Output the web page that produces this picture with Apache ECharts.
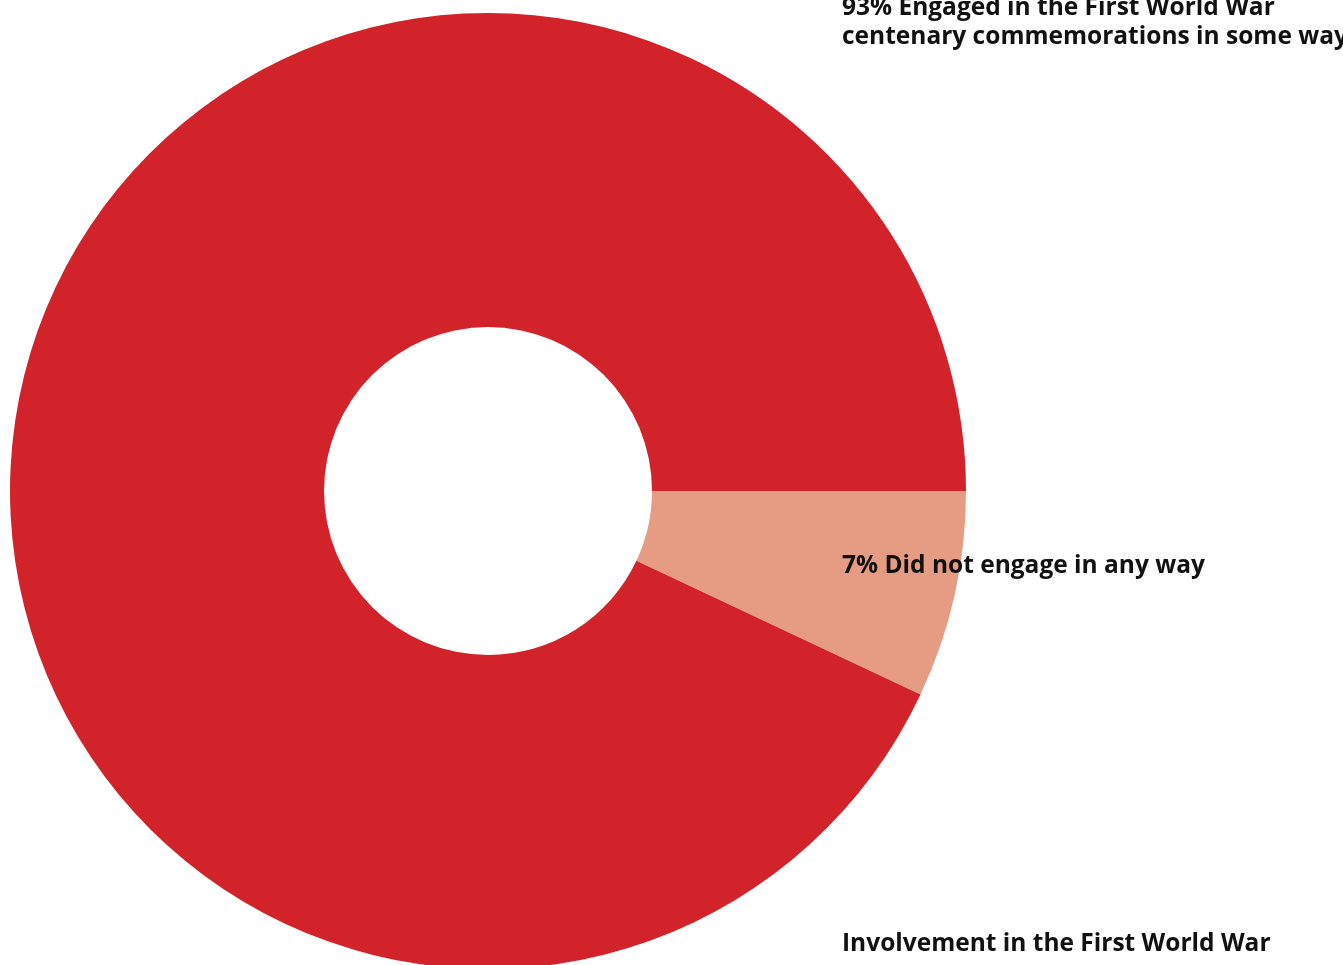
<!DOCTYPE html>
<html>
<head>
<meta charset="utf-8">
<script src="https://cdn.jsdelivr.net/npm/echarts@6/dist/echarts.min.js"></script>
<style>
  html, body { margin: 0; padding: 0; background: #ffffff; }
  #chart { width: 1343px; height: 965px; }
</style>
</head>
<body>
<div id="chart"></div>
<script>
// Share of respondents by engagement with the centenary commemorations
const categories = [
  'Did not engage in any way',
  'Engaged in the First World War\ncentenary commemorations in some way'
];
const values = [7, 93];
const sliceColors = ['#e59c83', '#d2232a'];
const chartTitle = 'Involvement in the First World War';

// Vertical placement of each slice's caption in the right-hand column
const captionTop = [552, -6];

const textBase = {
  fontFamily: 'Open Sans',
  fontWeight: 'bold',
  fontSize: 24.5,
  lineHeight: 29,
  color: '#111111'
};

const chart = echarts.init(document.getElementById('chart'), null, { renderer: 'canvas' });

const captions = categories.map((name, i) => ({
  text: values[i] + '% ' + name,
  left: 842,
  top: captionTop[i],
  padding: 0,
  itemGap: 0,
  textStyle: textBase
}));

chart.setOption({
  backgroundColor: '#ffffff',
  animation: false,
  title: captions.concat([{
    text: chartTitle,
    left: 842,
    top: 930,
    padding: 0,
    textStyle: textBase
  }]),
  series: [{
    type: 'pie',
    center: [488, 491],
    radius: [164, 478],
    startAngle: 0,
    clockwise: true,
    silent: true,
    itemStyle: { borderWidth: 0 },
    label: { show: false },
    labelLine: { show: false },
    data: categories.map((name, i) => ({
      name: name,
      value: values[i],
      itemStyle: { color: sliceColors[i] }
    }))
  }]
});
</script>
</body>
</html>
